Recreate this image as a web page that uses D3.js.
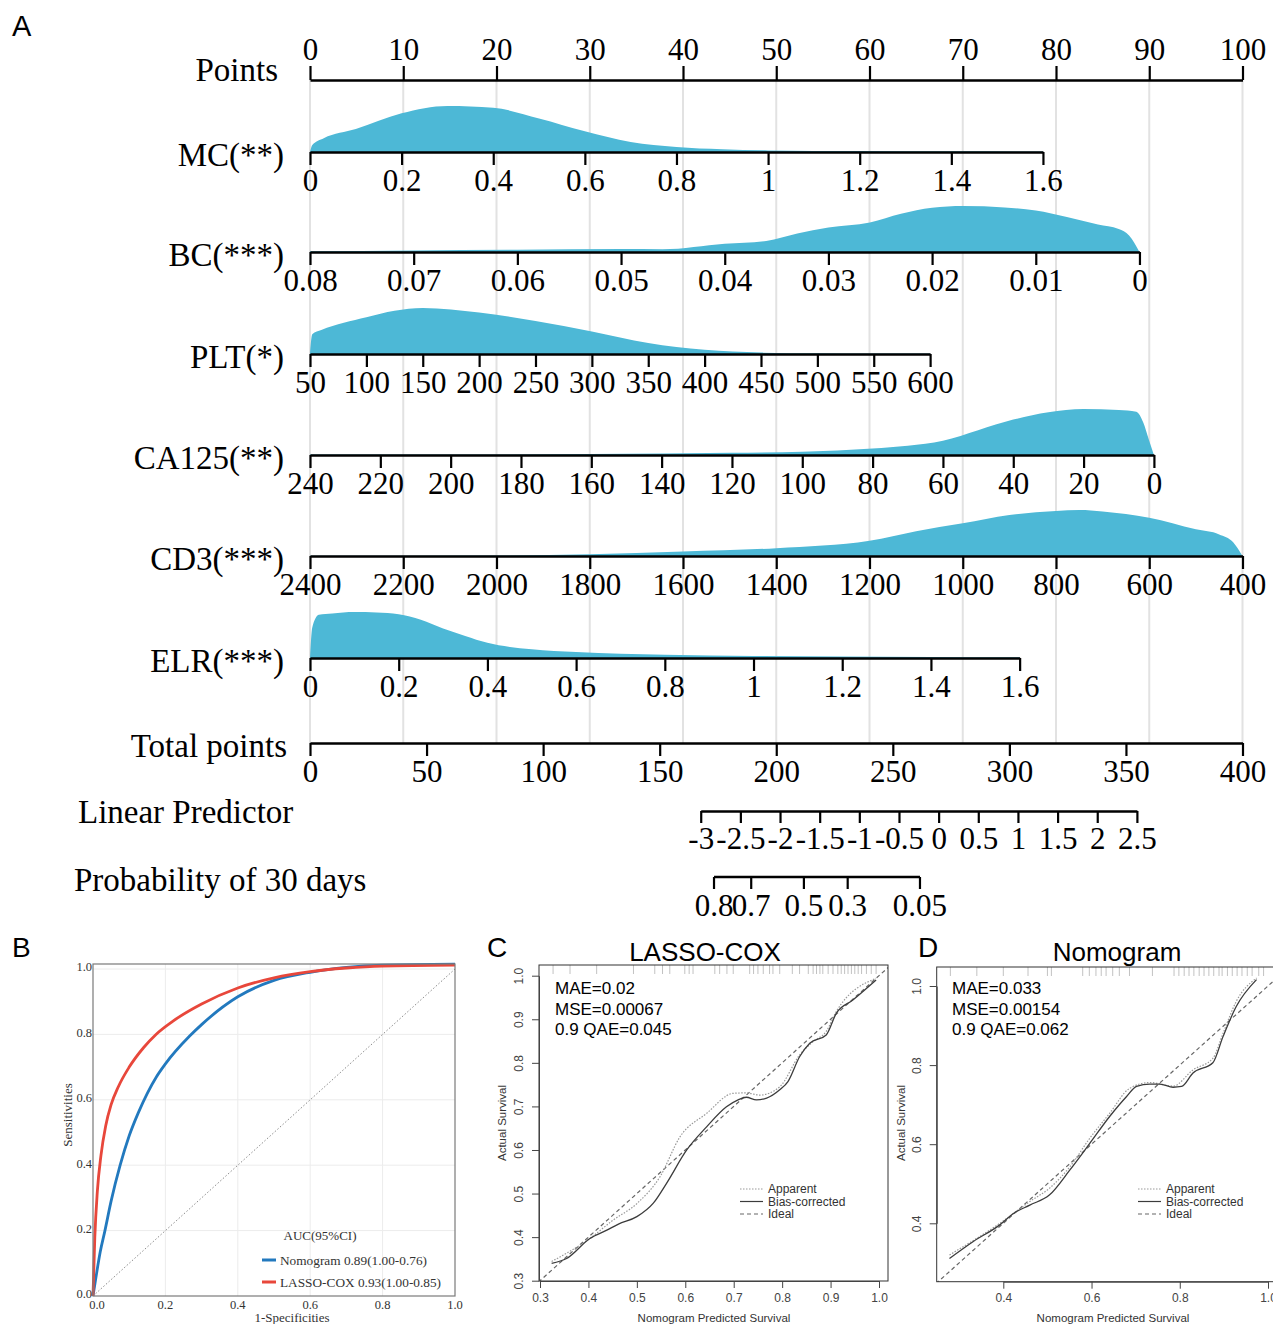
<!DOCTYPE html>
<html><head><meta charset="utf-8">
<script src="https://cdn.jsdelivr.net/npm/d3@7/dist/d3.min.js"></script>
<style>body{margin:0;background:#fff}</style>
</head><body>
<svg id="c" width="1273" height="1324" xmlns="http://www.w3.org/2000/svg"></svg>
<script>
// ================= DATA =================
// --- Panel A: nomogram ---
const pointTicks = [0,10,20,30,40,50,60,70,80,90,100];
const variables = ["MC(**)","BC(***)","PLT(*)","CA125(**)","CD3(***)","ELR(***)"];
// value at 0 points, value at the variable's maximum points
const varRange = [[0,1.6],[0.08,0],[50,600],[240,0],[2400,400],[0,1.6]];
const varMaxPoints = [78.6, 88.95, 66.5, 90.5, 100, 76.1];
const varTicks = [
  [0,0.2,0.4,0.6,0.8,1,1.2,1.4,1.6],
  [0.08,0.07,0.06,0.05,0.04,0.03,0.02,0.01,0],
  [50,100,150,200,250,300,350,400,450,500,550,600],
  [240,220,200,180,160,140,120,100,80,60,40,20,0],
  [2400,2200,2000,1800,1600,1400,1200,1000,800,600,400],
  [0,0.2,0.4,0.6,0.8,1,1.2,1.4,1.6]
];
// relative density (1 = peak): [value, density]
const mcDensity = [[0,0],[0.005,0.15],[0.03,0.3],[0.1,0.5],[0.2,0.84],[0.3,1.0],[0.4,0.96],[0.5,0.73],[0.6,0.45],[0.7,0.22],[0.8,0.11],[0.9,0.06],[1.0,0.035],[1.2,0.02],[1.4,0.015],[1.6,0.01]];
const bcDensity = [[0.08,0.015],[0.07,0.035],[0.06,0.05],[0.05,0.065],[0.046,0.06],[0.04,0.18],[0.036,0.24],[0.033,0.4],[0.03,0.53],[0.026,0.64],[0.023,0.83],[0.02,0.96],[0.017,1.0],[0.013,0.97],[0.01,0.9],[0.007,0.76],[0.004,0.6],[0.002,0.5],[0.001,0.36],[0,0]];
const pltDensity = [[50,0],[52,0.43],[60,0.52],[100,0.8],[125,0.94],[150,1.0],[200,0.9],[250,0.72],[300,0.49],[350,0.24],[400,0.09],[450,0.03],[500,0.015],[550,0.01],[600,0.01]];
const ca125Density = [[240,0.01],[200,0.01],[160,0.02],[120,0.05],[100,0.07],[80,0.14],[70,0.2],[60,0.31],[50,0.54],[40,0.77],[30,0.93],[20,1.0],[10,0.98],[5,0.94],[3,0.7],[1.5,0.35],[0,0]];
const cd3Density = [[2400,0.005],[2000,0.01],[1800,0.04],[1600,0.1],[1400,0.17],[1200,0.33],[1100,0.54],[1000,0.71],[900,0.89],[800,0.98],[750,1.0],[700,0.97],[600,0.83],[500,0.58],[450,0.47],[420,0.3],[400,0]];
const elrDensity = [[0,0],[0.005,0.66],[0.02,0.94],[0.05,0.97],[0.1,1.0],[0.15,0.99],[0.2,0.95],[0.25,0.83],[0.3,0.64],[0.35,0.48],[0.4,0.33],[0.5,0.19],[0.6,0.13],[0.8,0.07],[1.0,0.045],[1.2,0.03],[1.4,0.02],[1.6,0.015]];
const densities = [mcDensity, bcDensity, pltDensity, ca125Density, cd3Density, elrDensity];

const totalTicks = [0,50,100,150,200,250,300,350,400];
const lpTicks = [-3,-2.5,-2,-1.5,-1,-0.5,0,0.5,1,1.5,2,2.5];
const lpTotalPoints = [167.6, 354.7];       // total points at LP = -3 and LP = 2.5
const probTicks = [0.8,0.7,0.5,0.3,0.05];
const baseCumHazard = 3.79;                 // 30-day baseline cumulative hazard

// --- Panel B: ROC ---
const rocLasso = [[0,0],[0.005,0.18],[0.012,0.32],[0.022,0.43],[0.035,0.52],[0.05,0.585],[0.07,0.64],[0.1,0.7],[0.14,0.76],[0.174,0.8],[0.22,0.84],[0.3,0.893],[0.4,0.942],[0.5,0.973],[0.6,0.992],[0.7,1.003],[0.8,1.009],[1,1.012]];
const rocNomo  = [[0,0],[0.01,0.07],[0.02,0.135],[0.033,0.2],[0.05,0.29],[0.075,0.4],[0.1,0.49],[0.125,0.56],[0.15,0.62],[0.175,0.67],[0.2,0.71],[0.267,0.795],[0.3,0.83],[0.4,0.915],[0.5,0.965],[0.6,0.99],[0.7,1.005],[0.8,1.012],[1,1.015]];
const rocTicks = [0,0.2,0.4,0.6,0.8,1.0];
const rocLegend = ["Nomogram 0.89(1.00-0.76)","LASSO-COX 0.93(1.00-0.85)"];

// --- Panel C: calibration LASSO-COX ---
const calCBias = [[0.324,0.34],[0.355,0.351],[0.403,0.397],[0.438,0.416],[0.462,0.43],[0.5,0.447],[0.534,0.478],[0.561,0.523],[0.603,0.6],[0.644,0.653],[0.685,0.699],[0.709,0.715],[0.726,0.721],[0.747,0.715],[0.768,0.719],[0.795,0.738],[0.812,0.757],[0.836,0.814],[0.857,0.845],[0.891,0.864],[0.912,0.914],[0.946,0.944],[0.994,0.99]];
const calCApp  = [[0.324,0.344],[0.403,0.397],[0.451,0.439],[0.5,0.477],[0.548,0.539],[0.589,0.63],[0.644,0.684],[0.699,0.73],[0.726,0.731],[0.754,0.726],[0.795,0.745],[0.836,0.818],[0.864,0.849],[0.891,0.872],[0.912,0.918],[0.994,0.994]];
const calCRug = [0.327,0.362,0.417,0.493,0.537,0.553,0.568,0.599,0.608,0.616,0.661,0.671,0.686,0.699,0.733,0.741,0.75,0.761,0.774,0.781,0.795,0.821,0.836,0.854,0.864,0.871,0.878,0.884,0.895,0.905,0.915,0.922,0.929,0.936,0.943,0.95,0.957,0.964,0.974,0.984,0.994];
const calCStats = ["MAE=0.02","MSE=0.00067","0.9 QAE=0.045"];
const calCTicksX = [0.3,0.4,0.5,0.6,0.7,0.8,0.9,1.0];
const calCTicksY = [0.3,0.4,0.5,0.6,0.7,0.8,0.9,1.0];

// --- Panel D: calibration Nomogram ---
const calDBias = [[0.278,0.311],[0.332,0.354],[0.392,0.396],[0.423,0.425],[0.46,0.446],[0.505,0.472],[0.551,0.535],[0.596,0.602],[0.641,0.67],[0.679,0.72],[0.702,0.746],[0.732,0.752],[0.755,0.752],[0.785,0.744],[0.804,0.746],[0.83,0.78],[0.875,0.806],[0.898,0.872],[0.928,0.948],[0.974,1.016]];
const calDApp  = [[0.278,0.32],[0.392,0.4],[0.46,0.455],[0.505,0.489],[0.551,0.543],[0.596,0.615],[0.641,0.678],[0.686,0.741],[0.732,0.756],[0.785,0.747],[0.83,0.788],[0.875,0.817],[0.898,0.88],[0.928,0.961],[0.974,1.02]];
const calDRug = [0.28,0.34,0.4,0.456,0.5,0.509,0.58,0.595,0.61,0.622,0.633,0.648,0.663,0.686,0.738,0.787,0.798,0.81,0.821,0.832,0.844,0.855,0.866,0.877,0.889,0.896,0.908,0.919,0.93,0.941,0.953,0.964,0.979,0.99];
const calDStats = ["MAE=0.033","MSE=0.00154","0.9 QAE=0.062"];
const calDTicksX = [0.4,0.6,0.8,1.0];
const calDTicksY = [0.4,0.6,0.8,1.0];
const calLegend = ["Apparent","Bias-corrected","Ideal"];

// ================= DRAWING =================
const svg = d3.select("#c");
const SERIF = "'Liberation Serif','Times New Roman',serif";
const SANS = "'Liberation Sans',Arial,sans-serif";
const fmt = d => String(d);

// ---------- Panel A ----------
const pts = d3.scaleLinear().domain([0,100]).range([310,1242.5]);
const tot = d3.scaleLinear().domain([0,400]).range([310,1242.5]);
const rowsY = [152,252,354,455,556,658];
const pointsY = 80, totalY = 743, lpY = 811, probY = 877;
const densH = 46;
const densColor = "#4db8d6";

const gA = svg.append("g");
gA.append("text").attr("x",12).attr("y",36).attr("font-family",SANS).attr("font-size",29).text("A");

// grid lines
gA.append("g").selectAll("line").data(pointTicks).join("line")
  .attr("x1",d=>pts(d)).attr("x2",d=>pts(d)).attr("y1",pointsY).attr("y2",totalY)
  .attr("stroke","#e2e2e2").attr("stroke-width",2);

function styleAxis(g, fs){
  g.select(".domain").attr("stroke","#000").attr("stroke-width",2.6);
  g.selectAll(".tick line").attr("stroke","#000").attr("stroke-width",2.2);
  g.selectAll(".tick text").attr("font-family",SERIF).attr("font-size",fs).attr("fill","#000");
  g.attr("font-family",null).attr("font-size",null);
}
function rowLabel(txt, x, y, anchor){
  gA.append("text").attr("x",x).attr("y",y).attr("text-anchor",anchor||"end")
    .attr("font-family",SERIF).attr("font-size",33).text(txt);
}

// Points axis
const axP = gA.append("g").attr("transform",`translate(0,${pointsY})`)
  .call(d3.axisTop(pts).tickValues(pointTicks).tickFormat(fmt).tickSize(14).tickSizeOuter(0).tickPadding(6));
styleAxis(axP,31);
rowLabel("Points",278,81);

// variable rows
variables.forEach((v,i)=>{
  const y = rowsY[i];
  const xs = d3.scaleLinear().domain(varRange[i]).range([pts(0), pts(varMaxPoints[i])]);
  const ys = d3.scaleLinear().domain([0,1]).range([y, y-densH]);
  const dat = densities[i].slice().sort((a,b)=>xs(a[0])-xs(b[0]));
  gA.append("path").datum(dat)
    .attr("d", d3.area().x(d=>xs(d[0])).y0(y).y1(d=>ys(d[1])).curve(d3.curveMonotoneX))
    .attr("fill",densColor).attr("stroke","none");
  const ax = gA.append("g").attr("transform",`translate(0,${y})`)
    .call(d3.axisBottom(xs).tickValues(varTicks[i]).tickFormat(fmt).tickSize(13).tickSizeOuter(0).tickPadding(4));
  styleAxis(ax,31);
  rowLabel(v, 284, y+14);
});

// Total points
const axT = gA.append("g").attr("transform",`translate(0,${totalY})`)
  .call(d3.axisBottom(tot).tickValues(totalTicks).tickFormat(fmt).tickSize(13).tickSizeOuter(0).tickPadding(4));
styleAxis(axT,31);
rowLabel("Total points",287,totalY+14);

// Linear predictor
const lp = d3.scaleLinear().domain([-3,2.5]).range([tot(lpTotalPoints[0]), tot(lpTotalPoints[1])]);
const axL = gA.append("g").attr("transform",`translate(0,${lpY})`)
  .call(d3.axisBottom(lp).tickValues(lpTicks).tickFormat(fmt).tickSize(12).tickSizeOuter(0).tickPadding(4));
styleAxis(axL,31);
rowLabel("Linear Predictor",78,lpY+12,"start");

// Probability
const probToLp = p => Math.log(-Math.log(p)/baseCumHazard);
const probScale = p => lp(probToLp(p));
const axPr = gA.append("g").attr("transform",`translate(0,${probY})`);
axPr.append("path").attr("d",`M${probScale(probTicks[0])},0H${probScale(probTicks[probTicks.length-1])}`)
  .attr("stroke","#000").attr("stroke-width",2.6).attr("fill","none");
probTicks.forEach(p=>{
  axPr.append("line").attr("x1",probScale(p)).attr("x2",probScale(p)).attr("y1",0).attr("y2",12)
    .attr("stroke","#000").attr("stroke-width",2.2);
  axPr.append("text").attr("x",probScale(p)).attr("y",39).attr("text-anchor","middle")
    .attr("font-family",SERIF).attr("font-size",31).text(fmt(p));
});
rowLabel("Probability of 30 days",74,probY+14,"start");

// ---------- Panel B: ROC ----------
const gB = svg.append("g");
gB.append("text").attr("x",12).attr("y",957).attr("font-family",SANS).attr("font-size",28).text("B");
const bx = d3.scaleLinear().domain([0,1]).range([93,455]);
const by = d3.scaleLinear().domain([0,1]).range([1296,969]);
const bTop = 964;
gB.append("g").selectAll("line.v").data(rocTicks.slice(1,5)).join("line")
  .attr("x1",d=>bx(d)).attr("x2",d=>bx(d)).attr("y1",bTop).attr("y2",by(0))
  .attr("stroke","#ececec").attr("stroke-width",1);
gB.append("g").selectAll("line.h").data(rocTicks.slice(1)).join("line")
  .attr("x1",bx(0)).attr("x2",bx(1)).attr("y1",d=>by(d)).attr("y2",d=>by(d))
  .attr("stroke","#ececec").attr("stroke-width",1);
gB.append("line").attr("x1",bx(0)).attr("y1",by(0)).attr("x2",bx(1)).attr("y2",by(1))
  .attr("stroke","#8a8a8a").attr("stroke-width",1).attr("stroke-dasharray","1.5,2");
const rocLine = d3.line().x(d=>bx(d[0])).y(d=>by(d[1])).curve(d3.curveMonotoneX);
gB.append("path").datum(rocNomo).attr("d",rocLine).attr("fill","none").attr("stroke","#2279be").attr("stroke-width",2.8);
gB.append("path").datum(rocLasso).attr("d",rocLine).attr("fill","none").attr("stroke","#e8473b").attr("stroke-width",2.8);
gB.append("rect").attr("x",bx(0)).attr("y",bTop).attr("width",bx(1)-bx(0)).attr("height",by(0)-bTop)
  .attr("fill","none").attr("stroke","#7a7a7a").attr("stroke-width",1.2);
rocTicks.forEach(t=>{
  gB.append("text").attr("x",92).attr("y",by(t)-2).attr("dy","0.35em").attr("text-anchor","end")
    .attr("font-family",SERIF).attr("font-size",12.5).attr("fill","#333").text(t.toFixed(1));
  gB.append("text").attr("x",bx(t)+(t===0?4:0)).attr("y",1309).attr("text-anchor","middle")
    .attr("font-family",SERIF).attr("font-size",12.5).attr("fill","#333").text(t.toFixed(1));
});
gB.append("text").attr("x",292).attr("y",1322).attr("text-anchor","middle")
  .attr("font-family",SERIF).attr("font-size",13).attr("fill","#333").text("1-Specificities");
gB.append("text").attr("transform","translate(72,1115) rotate(-90)").attr("text-anchor","middle")
  .attr("font-family",SERIF).attr("font-size",13).attr("fill","#333").text("Sensitivities");
gB.append("text").attr("x",320).attr("y",1240).attr("text-anchor","middle")
  .attr("font-family",SERIF).attr("font-size",13).attr("fill","#333").text("AUC(95%CI)");
[["#2279be",1260],["#e8473b",1282]].forEach((c,i)=>{
  gB.append("line").attr("x1",262).attr("x2",276).attr("y1",c[1]).attr("y2",c[1]).attr("stroke",c[0]).attr("stroke-width",3);
  gB.append("text").attr("x",280).attr("y",c[1]).attr("dy","0.35em").attr("font-family",SERIF).attr("font-size",13.3)
    .attr("fill","#333").text(rocLegend[i]);
});

// ---------- Panels C & D: calibration ----------
function calPanel(o){
  const g = svg.append("g");
  g.append("text").attr("x",o.letterX).attr("y",957).attr("font-family",SANS).attr("font-size",28).text(o.letter);
  g.append("text").attr("x",o.titleX).attr("y",961).attr("text-anchor","middle").attr("font-family",SANS)
    .attr("font-size",26).text(o.title);
  const x = d3.scaleLinear().domain(o.xd).range(o.xr);
  const y = d3.scaleLinear().domain(o.yd).range(o.yr);
  const clipId = "clip"+o.letter;
  g.append("clipPath").attr("id",clipId).append("rect")
    .attr("x",o.box[0]).attr("y",o.box[1]).attr("width",o.box[2]-o.box[0]).attr("height",o.box[3]-o.box[1]);
  const inner = g.append("g").attr("clip-path",`url(#${clipId})`);
  // rug
  inner.selectAll("line.rug").data(o.rug).join("line")
    .attr("x1",d=>x(d)).attr("x2",d=>x(d)).attr("y1",o.box[1]).attr("y2",o.box[1]+9)
    .attr("stroke","#c2c2c2").attr("stroke-width",1);
  // ideal
  inner.append("line").attr("x1",x(0.2)).attr("y1",y(0.2)).attr("x2",x(1.1)).attr("y2",y(1.1))
    .attr("stroke","#666").attr("stroke-width",1.2).attr("stroke-dasharray","4,3");
  const ln = d3.line().x(d=>x(d[0])).y(d=>y(d[1])).curve(d3.curveMonotoneX);
  inner.append("path").datum(o.app).attr("d",ln).attr("fill","none").attr("stroke","#999")
    .attr("stroke-width",1.2).attr("stroke-dasharray","1.5,1.5");
  inner.append("path").datum(o.bias).attr("d",ln).attr("fill","none").attr("stroke","#3c3c3c").attr("stroke-width",1.3);
  g.append("rect").attr("x",o.box[0]).attr("y",o.box[1]).attr("width",o.box[2]-o.box[0]).attr("height",o.box[3]-o.box[1])
    .attr("fill","none").attr("stroke","#333").attr("stroke-width",1);
  // axes
  const ax = g.append("g").attr("transform",`translate(0,${o.box[3]})`)
    .call(d3.axisBottom(x).tickValues(o.tx).tickFormat(d=>d.toFixed(1)).tickSize(7).tickSizeOuter(0).tickPadding(5));
  ax.select(".domain").attr("stroke","#444");
  ax.selectAll(".tick line").attr("stroke","#444");
  ax.selectAll(".tick text").attr("font-family",SANS).attr("font-size",12).attr("fill","#444");
  const ay = g.append("g").attr("transform",`translate(${o.box[0]},0)`)
    .call(d3.axisLeft(y).tickValues(o.ty).tickFormat(d=>d.toFixed(1)).tickSize(7).tickSizeOuter(0));
  ay.select(".domain").attr("stroke","#444");
  ay.selectAll(".tick line").attr("stroke","#444");
  ay.selectAll(".tick text").attr("x",null).attr("dy",null).attr("text-anchor","middle")
    .attr("transform","translate(-16,0) rotate(-90)")
    .attr("font-family",SANS).attr("font-size",12).attr("fill","#444");
  g.append("text").attr("x",o.xlabX).attr("y",1322).attr("text-anchor","middle").attr("font-family",SANS)
    .attr("font-size",11.5).attr("fill","#333").text("Nomogram Predicted Survival");
  g.append("text").attr("transform",`translate(${o.ylabX},1123) rotate(-90)`).attr("text-anchor","middle")
    .attr("font-family",SANS).attr("font-size",11.5).attr("fill","#333").text("Actual Survival");
  // stats
  o.stats.forEach((s,i)=>{
    g.append("text").attr("x",o.statX).attr("y",994+i*20.5).attr("font-family",SANS).attr("font-size",17).text(s);
  });
  // legend
  const lys = [1189,1201.5,1214];
  const styles = [{c:"#999",da:"1.5,1.5"},{c:"#3c3c3c",da:null},{c:"#666",da:"4,3"}];
  calLegend.forEach((t,i)=>{
    g.append("line").attr("x1",o.legX).attr("x2",o.legX+23).attr("y1",lys[i]).attr("y2",lys[i])
      .attr("stroke",styles[i].c).attr("stroke-width",1.2).attr("stroke-dasharray",styles[i].da);
    g.append("text").attr("x",o.legX+28).attr("y",lys[i]).attr("dy","0.35em").attr("font-family",SANS)
      .attr("font-size",12).attr("fill","#333").text(t);
  });
}
calPanel({letter:"C",letterX:487,title:"LASSO-COX",titleX:705,
  xd:[0.3,1.0],xr:[540,879],yd:[0.3,1.0],yr:[1280.7,975.7],box:[539,965,888,1281],
  tx:calCTicksX,ty:calCTicksY,rug:calCRug,app:calCApp,bias:calCBias,stats:calCStats,statX:555,
  legX:740,xlabX:714,ylabX:506});
calPanel({letter:"D",letterX:918,title:"Nomogram",titleX:1117,
  xd:[0.4,1.0],xr:[1003.3,1268],yd:[0.4,1.0],yr:[1223.3,986],box:[936.7,967,1290,1281.7],
  tx:calDTicksX,ty:calDTicksY,rug:calDRug,app:calDApp,bias:calDBias,stats:calDStats,statX:952,
  legX:1138,xlabX:1113,ylabX:905});
</script>
</body></html>
